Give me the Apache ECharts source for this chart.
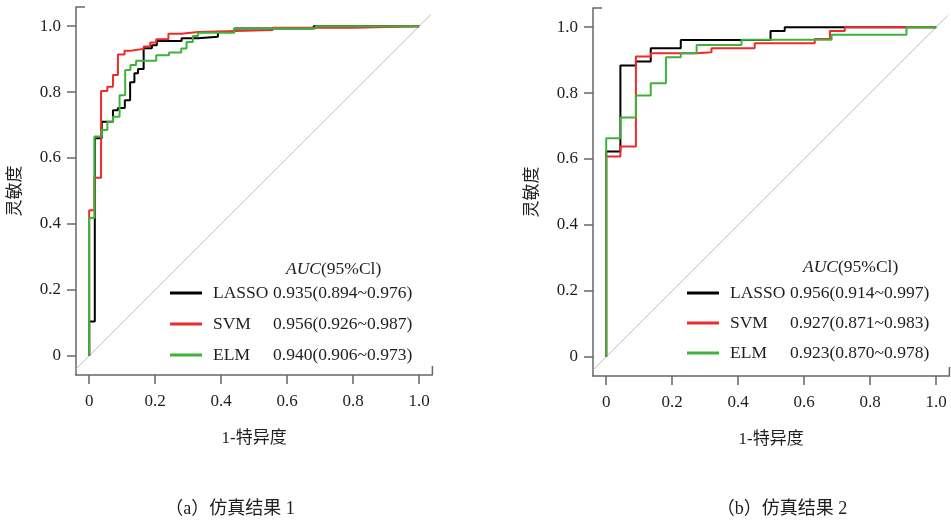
<!DOCTYPE html>
<html><head><meta charset="utf-8">
<script src="https://cdn.jsdelivr.net/npm/echarts@6/dist/echarts.min.js"></script>
<style>html,body{margin:0;padding:0;background:#fff}#c{width:951px;height:524px}</style>
</head><body><div id="c"></div>
<script>
// ---------------- data ----------------
const models = ['LASSO', 'SVM', 'ELM'];
const colors = ['#000000', '#ee2a2a', '#3db33d'];
const tickValues = [0, 0.2, 0.4, 0.6, 0.8, 1.0];
const diagonal = [[-0.04, -0.04], [1.035, 1.035]];
const aucA = ['0.935(0.894~0.976)', '0.956(0.926~0.987)', '0.940(0.906~0.973)'];
const aucB = ['0.956(0.914~0.997)', '0.927(0.871~0.983)', '0.923(0.870~0.978)'];
const captions = ['（a）仿真结果 1', '（b）仿真结果 2'];
const xName = '1-特异度';
const yName = '灵敏度';

// ROC points [1-specificity, sensitivity]; curve rises at each x to the given y
const lassoA = [[0,0],[0,0.104],[0.017,0.66],[0.038,0.71],[0.072,0.745],[0.087,0.752],[0.108,0.775],[0.124,0.83],[0.137,0.857],[0.148,0.87],[0.165,0.933],[0.19,0.942],[0.205,0.955],[0.28,0.963],[0.33,0.968],[0.39,0.982],[0.44,0.993],[0.68,1],[1,1]];
const svmA = [[0,0],[0,0.442],[0.016,0.54],[0.036,0.803],[0.055,0.816],[0.072,0.852],[0.087,0.914],[0.107,0.925],[0.125,0.931],[0.165,0.938],[0.185,0.95],[0.203,0.96],[0.24,0.977],[0.279,0.982],[0.33,0.988],[0.556,0.995],[0.8,1],[1,1]];
const elmA = [[0,0],[0,0.418],[0.016,0.665],[0.038,0.685],[0.055,0.71],[0.072,0.725],[0.092,0.79],[0.109,0.867],[0.125,0.882],[0.142,0.895],[0.203,0.912],[0.242,0.92],[0.279,0.932],[0.295,0.952],[0.314,0.97],[0.33,0.98],[0.44,0.993],[0.687,1],[1,1]];
const lassoB = [[0,0],[0,0.623],[0.043,0.884],[0.09,0.896],[0.135,0.936],[0.226,0.961],[0.498,0.988],[0.541,1],[1,1]];
const svmB = [[0,0],[0,0.608],[0.043,0.638],[0.09,0.911],[0.135,0.921],[0.274,0.924],[0.319,0.936],[0.45,0.951],[0.632,0.964],[0.678,0.988],[0.723,1],[1,1]];
const elmB = [[0,0],[0,0.663],[0.043,0.726],[0.09,0.793],[0.135,0.83],[0.181,0.909],[0.226,0.921],[0.274,0.946],[0.41,0.962],[0.683,0.977],[0.91,1],[1,1]];

// ---------------- layout ----------------
const FONT = '"Liberation Serif", "Noto Sans CJK SC", serif';
const AXIS_COLOR = '#666666';
const TEXT_COLOR = '#1e1e1e';
const grids = [
  {left: 76, top: 7, width: 356.4, height: 368},
  {left: 593, top: 8, width: 356.4, height: 368}
];
const curves = [[lassoA, svmA, elmA], [lassoB, svmB, elmB]];
const aucs = [aucA, aucB];

const fmt = v => (v === 0 ? '0' : v.toFixed(1));

const xAxes = grids.map((g, i) => ({
  gridIndex: i, type: 'value', min: -0.04, max: 1.04,
  name: xName, nameLocation: 'middle', nameGap: 55,
  nameTextStyle: {fontFamily: FONT, fontSize: 17, color: TEXT_COLOR},
  axisLine: {show: true, onZero: false, lineStyle: {color: AXIS_COLOR, width: 1.5}},
  axisTick: {show: true, length: 9, customValues: tickValues, lineStyle: {color: AXIS_COLOR, width: 1.5}},
  axisLabel: {customValues: tickValues, formatter: fmt, margin: 18, fontFamily: FONT, fontSize: 17, color: TEXT_COLOR},
  splitLine: {show: false}
}));
const yAxes = grids.map((g, i) => ({
  gridIndex: i, type: 'value', min: -0.058, max: 1.058,
  name: yName, nameLocation: 'middle', nameGap: 52, nameRotate: 90,
  nameTextStyle: {fontFamily: FONT, fontSize: 17, color: TEXT_COLOR},
  axisLine: {show: true, onZero: false, lineStyle: {color: AXIS_COLOR, width: 1.5}},
  axisTick: {show: true, length: 9, customValues: tickValues, lineStyle: {color: AXIS_COLOR, width: 1.5}},
  axisLabel: {customValues: tickValues, formatter: fmt, margin: 15, fontFamily: FONT, fontSize: 17, color: TEXT_COLOR},
  splitLine: {show: false}
}));

const series = [];
grids.forEach((g, i) => {
  series.push({
    type: 'line', xAxisIndex: i, yAxisIndex: i, data: diagonal, symbol: 'none', silent: true,
    lineStyle: {color: '#bdbdbd', width: 1}, z: 1
  });
  models.forEach((m, k) => {
    series.push({
      name: m, type: 'line', xAxisIndex: i, yAxisIndex: i, data: curves[i][k],
      step: 'end', symbol: 'none', color: colors[k],
      lineStyle: {color: colors[k], width: 2}, z: 2 + k
    });
  });
});

const legendRich = {
  n: {width: 60, padding: [0, 0, 0, 6], fontFamily: FONT, fontSize: 17.5, color: TEXT_COLOR},
  v: {fontFamily: FONT, fontSize: 17.5, color: TEXT_COLOR}
};
const legendPos = [{left: 170, top: 283, gap: 11}, {left: 687, top: 283, gap: 10}];
const legends = legendPos.map((p, i) => ({
  data: models, orient: 'vertical', left: p.left, top: p.top, padding: 0,
  itemGap: p.gap, itemWidth: 32, itemHeight: 3, icon: 'rect', selectedMode: false,
  formatter: name => '{n|' + name + '}{v|' + aucs[i][models.indexOf(name)] + '}',
  textStyle: {fontFamily: FONT, fontSize: 17.5, lineHeight: 20, color: TEXT_COLOR, rich: legendRich}
}));

const headerPos = [[286, 269], [803, 267]];
const captionPos = [[230, 509], [782, 509]];
const graphic = [];
grids.forEach((g, i) => {
  const r = g.left + g.width, b = g.top + g.height;
  graphic.push({type: 'line', silent: true, shape: {x1: g.left, y1: g.top, x2: g.left + 9, y2: g.top},
    style: {stroke: AXIS_COLOR, lineWidth: 1.5}});
  graphic.push({type: 'line', silent: true, shape: {x1: r, y1: b, x2: r, y2: b - 9},
    style: {stroke: AXIS_COLOR, lineWidth: 1.5}});
  graphic.push({type: 'text', silent: true, x: headerPos[i][0], y: headerPos[i][1],
    style: {text: '{i|AUC}{n|(95%Cl)}', textVerticalAlign: 'middle', verticalAlign: 'middle',
      textAlign: 'left', align: 'left', fill: TEXT_COLOR, font: '17.5px ' + FONT,
      rich: {i: {fontStyle: 'italic', fontFamily: FONT, fontSize: 17.5, fill: TEXT_COLOR, color: TEXT_COLOR},
             n: {fontFamily: FONT, fontSize: 17.5, fill: TEXT_COLOR, color: TEXT_COLOR}}}});
  graphic.push({type: 'text', silent: true, x: captionPos[i][0], y: captionPos[i][1],
    style: {text: captions[i], textAlign: 'center', align: 'center', textVerticalAlign: 'middle', verticalAlign: 'middle',
      fill: TEXT_COLOR, font: '18px ' + FONT}});
});

const chart = echarts.init(document.getElementById('c'), null, {renderer: 'canvas'});
chart.setOption({
  animation: false,
  backgroundColor: '#ffffff',
  grid: grids.map(g => Object.assign({show: false, containLabel: false}, g)),
  xAxis: xAxes,
  yAxis: yAxes,
  legend: legends,
  series: series,
  graphic: graphic
});
</script>
</body></html>
